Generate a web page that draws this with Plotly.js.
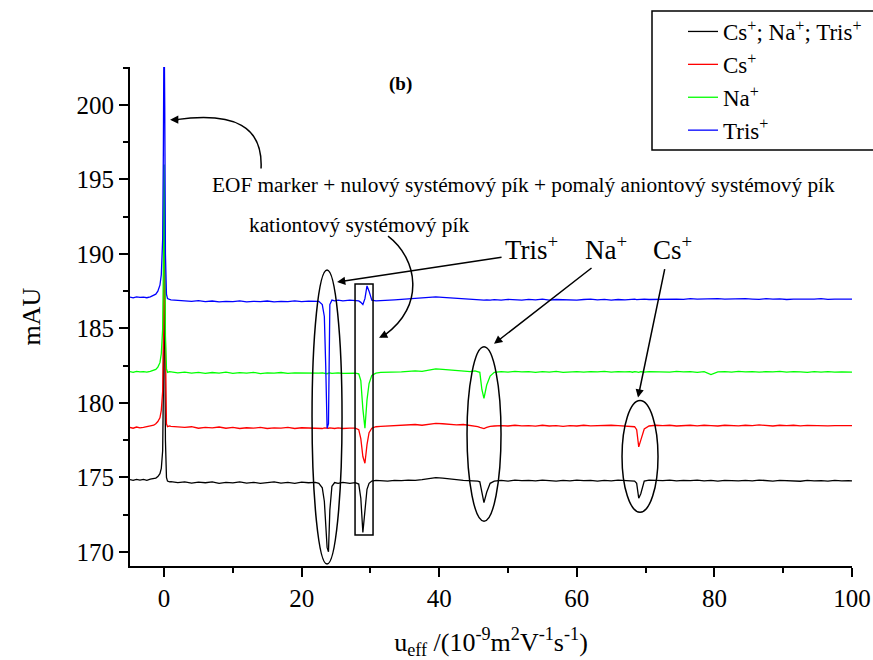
<!DOCTYPE html>
<html>
<head>
<meta charset="utf-8">
<script src="https://cdn.plot.ly/plotly-3.0.1.min.js"></script>
<style>html,body{margin:0;padding:0;background:#fff;} #chart{width:873px;height:660px;}</style>
</head>
<body>
<div id="chart"></div>
<script>
// mobility axis values (10^-9 m^2 V^-1 s^-1)
const mobility = [
  -4.95, -4.5, -4, -3.5, -3, -2.5, -2, -1.5,
  -1.2, -0.9, -0.6, -0.4, -0.2, -0.1, 0, 0.1, 0.2, 0.35, 0.5, 0.8,
  1, 2, 3, 4, 5, 6, 7, 8, 9, 10, 11, 12, 13, 14, 15, 16, 17, 18, 19, 20, 21, 22,
  22.5, 23, 23.3, 23.5, 23.7, 23.9, 24.1, 24.4, 24.8, 25.3, 26, 27, 27.8,
  28.3, 28.6, 28.9, 29.2, 29.5, 29.8, 30.2, 30.8, 31.5,
  32.5, 33.5, 34.5, 35.5, 36.5, 37.5, 38.5, 39.5, 40.5, 41.5, 42.5, 43.5, 44.5,
  45.2, 45.6, 45.9, 46.2, 46.5, 46.9, 47.4, 48,
  49, 50, 51, 52, 53, 54, 55, 56, 57, 58, 59, 60, 61, 62, 63, 64, 65, 66, 67,
  67.7, 68.1, 68.4, 68.7, 69, 69.3, 69.8, 70.5,
  71.5, 72.5, 73.5, 74.5, 75.5, 76.5, 77.5, 78.5, 79.5, 80.5, 81.5, 82.5, 83.5, 84.5, 85.5,
  86.5, 87.5, 88.5, 89.5, 90.5, 91.5, 92.5, 93.5, 94.5, 95.5, 96.5, 97.5, 98.5, 99.5, 100
];

// Cs+; Na+; Tris+ (black)
const mixSignal = [
  174.85, 174.8, 174.87, 174.82, 174.86, 174.8, 174.88, 174.9,
  174.95, 175.05, 175.25, 175.6, 176.8, 181, 191.0, 185, 177.5, 175.0, 174.75, 174.7,
  174.72, 174.65, 174.7, 174.62, 174.68, 174.64, 174.7, 174.6, 174.66, 174.63, 174.7, 174.62, 174.67, 174.6, 174.65, 174.7, 174.62, 174.66, 174.6, 174.68, 174.64, 174.66,
  174.6, 174.3, 173.4, 171.8, 170.3, 170.0, 172.8, 174.4, 174.65, 174.6, 174.66, 174.6, 174.65,
  174.55, 173.6, 171.3, 172.9, 174.2, 174.6, 174.75, 174.8, 174.78,
  174.75, 174.8, 174.78, 174.82, 174.8, 174.85, 174.9, 174.98, 174.95, 174.88, 174.85, 174.8, 174.78,
  174.8, 174.75, 174.7, 174.0, 173.3, 174.0, 174.6, 174.75,
  174.8, 174.75, 174.82, 174.78, 174.8, 174.76, 174.82, 174.78, 174.75, 174.8, 174.77, 174.82, 174.78, 174.8, 174.75, 174.8, 174.77, 174.82, 174.78,
  174.8, 174.78, 174.75, 174.6, 173.6, 173.9, 174.75, 174.82,
  174.8, 174.78, 174.82, 174.76, 174.8, 174.78, 174.82, 174.77, 174.8, 174.75, 174.8, 174.78, 174.76, 174.8, 174.77,
  174.82, 174.78, 174.75, 174.8, 174.77, 174.78, 174.74, 174.8, 174.76, 174.78, 174.75, 174.8, 174.76, 174.78, 174.77
];

// Cs+ (red)
const csSignal = [
  178.35, 178.3, 178.38, 178.32, 178.36, 178.4, 178.42, 178.5,
  178.6, 178.75, 179.0, 179.5, 180.8, 184, 191.2, 187, 180.5, 178.6, 178.4, 178.45,
  178.42, 178.38, 178.35, 178.4, 178.3, 178.36, 178.32, 178.38, 178.3, 178.35, 178.28, 178.33, 178.3, 178.36, 178.28, 178.32, 178.3, 178.35, 178.28, 178.33, 178.3, 178.32,
  178.3, 178.28, 178.32, 178.3, 178.27, 178.3, 178.32, 178.3, 178.28, 178.32, 178.28, 178.3, 178.3,
  178.2, 177.6, 176.4, 175.95, 177.2, 178.0, 178.3, 178.4, 178.42,
  178.45, 178.5, 178.48, 178.52, 178.55, 178.5, 178.58, 178.62, 178.6, 178.55, 178.52, 178.55, 178.5,
  178.45, 178.4, 178.35, 178.3, 178.28, 178.35, 178.42, 178.45,
  178.48, 178.45, 178.5, 178.46, 178.48, 178.44, 178.5, 178.45, 178.48, 178.43, 178.47, 178.45, 178.5, 178.46, 178.48, 178.45, 178.5, 178.47, 178.45,
  178.45, 178.42, 178.4, 178.2, 177.05, 177.5, 178.25, 178.45,
  178.5, 178.47, 178.5, 178.45, 178.48, 178.5, 178.46, 178.5, 178.47, 178.45, 178.5, 178.48, 178.46, 178.5, 178.47,
  178.52, 178.48, 178.45, 178.5, 178.47, 178.5, 178.46, 178.49, 178.47, 178.5, 178.46, 178.48, 178.5, 178.47, 178.48
];

// Na+ (green)
const naSignal = [
  182.1, 182.05, 182.12, 182.08, 182.1, 182.06, 182.12, 182.18,
  182.25, 182.4, 182.7, 183.3, 185, 189, 196.0, 192, 184.5, 182.3, 182.05, 182.1,
  182.08, 182.02, 182.06, 182.0, 182.05, 181.98, 182.04, 182.0, 182.06, 181.98, 182.03, 182.0, 182.05, 181.97, 182.02, 182.0, 182.04, 181.98, 182.02, 182.0, 182.03, 181.98,
  182.0, 182.02, 181.98, 182.0, 181.96, 182.0, 182.02, 181.98, 182.0, 182.02, 181.98, 182.0, 182.0,
  181.95, 181.5, 179.6, 178.3, 180.2, 181.3, 181.85, 182.0, 182.05,
  182.05, 182.1, 182.08, 182.12, 182.15, 182.12, 182.2, 182.28, 182.25, 182.2, 182.15, 182.12, 182.1,
  182.15, 182.12, 182.05, 180.9, 180.3, 181.2, 181.8, 182.05,
  182.1, 182.06, 182.12, 182.08, 182.1, 182.05, 182.1, 182.07, 182.12, 182.05, 182.08, 182.1, 182.06, 182.1, 182.08, 182.12, 182.06, 182.1, 182.08,
  182.1, 182.06, 182.1, 182.08, 182.05, 182.1, 182.07, 182.1,
  182.08, 182.1, 182.06, 182.12, 182.08, 182.1, 182.05, 182.1, 181.9, 182.08, 182.1, 182.06, 182.12, 182.08, 182.1,
  182.06, 182.1, 182.08, 182.12, 182.06, 182.1, 182.08, 182.05, 182.1, 182.07, 182.1, 182.06, 182.08, 182.1, 182.06
];

// Tris+ (blue)
const trisSignal = [
  187.1, 187.05, 187.12, 187.08, 187.1, 187.06, 187.12, 187.2,
  187.3, 187.5, 187.9, 188.6, 191, 197, 206, 200, 190, 187.3, 187.0, 186.95,
  186.92, 186.88, 186.85, 186.82, 186.86, 186.8, 186.84, 186.78, 186.82, 186.8, 186.85, 186.78, 186.82, 186.8, 186.84, 186.78, 186.82, 186.8, 186.85, 186.8, 186.83, 186.82,
  186.82, 186.6, 185.8, 182.5, 178.3, 178.6, 186.6, 186.9, 186.85, 186.9, 186.85, 186.9, 186.88,
  186.85, 186.75, 186.6, 187.0, 187.85, 187.5, 186.9, 186.85, 186.88,
  186.9, 186.92, 186.95, 186.98, 187.0, 187.05, 187.1, 187.12, 187.08, 187.05, 187.0, 186.98, 186.95,
  186.95, 186.92, 186.9, 186.88, 186.9, 186.92, 186.9, 186.93,
  186.9, 186.95, 186.92, 186.9, 186.95, 186.92, 186.96, 186.9, 186.94, 186.92, 186.95, 186.9, 186.94, 186.96, 186.92, 186.95, 186.9, 186.94, 186.92,
  186.95, 186.92, 186.96, 186.93, 186.95, 186.92, 186.96, 186.94,
  186.95, 186.98, 186.94, 186.97, 186.95, 187.0, 186.96, 186.98, 186.95, 187.0, 186.96, 186.98, 186.95, 187.0, 186.97,
  186.95, 187.0, 186.96, 186.98, 186.94, 186.97, 186.95, 186.98, 186.96, 187.0, 186.95, 186.97, 186.98, 186.95, 186.97
];

const seriesNames = ['Cs<sup>+</sup>; Na<sup>+</sup>; Tris<sup>+</sup>', 'Cs<sup>+</sup>', 'Na<sup>+</sup>', 'Tris<sup>+</sup>'];
const seriesValues = [mixSignal, csSignal, naSignal, trisSignal];
const seriesColors = ['#000000', '#ff0000', '#00ff00', '#0000ff'];

const xTickVals = [0, 20, 40, 60, 80, 100];
const yTickVals = [170, 175, 180, 185, 190, 195, 200];

const FONT = 'Liberation Serif';

const traces = seriesValues.map((ys, i) => ({
  x: mobility, y: ys, type: 'scatter', mode: 'lines', name: seriesNames[i],
  line: {color: seriesColors[i], width: 1.3}
}));

// helper: convert reference pixel position to data coordinates (for annotation layout only)
const px2x = p => (p - 164) / 6.88;
const py2y = p => 200 - (p - 103.3) / 14.95;

const shapes = [
  {type: 'circle', xref: 'x', yref: 'y', x0: px2x(312), x1: px2x(342), y0: py2y(564), y1: py2y(269), line: {color: '#000', width: 1.5}},
  {type: 'rect', xref: 'x', yref: 'y', x0: px2x(355), x1: px2x(373), y0: py2y(535), y1: py2y(283), line: {color: '#000', width: 1.5}},
  {type: 'circle', xref: 'x', yref: 'y', x0: px2x(467), x1: px2x(501), y0: py2y(521), y1: py2y(346), line: {color: '#000', width: 1.5}},
  {type: 'circle', xref: 'x', yref: 'y', x0: px2x(622), x1: px2x(658), y0: py2y(512), y1: py2y(400), line: {color: '#000', width: 1.5}},
  // curved arrow from EOF text to the EOF peak
  {type: 'path', xref: 'x', yref: 'y', line: {color: '#000', width: 1.5},
   path: `M ${px2x(261)},${py2y(167)} C ${px2x(263)},${py2y(125)} ${px2x(235)},${py2y(110)} ${px2x(176)},${py2y(118)}`},
  // curved arrow from the cationic system peak text
  {type: 'path', xref: 'x', yref: 'y', line: {color: '#000', width: 1.5},
   path: `M ${px2x(388)},${py2y(235)} C ${px2x(418)},${py2y(258)} ${px2x(425)},${py2y(305)} ${px2x(385)},${py2y(334)}`},
  // legend frame
  {type: 'rect', xref: 'paper', yref: 'paper', x0: (652 - 130) / 722, x1: (885 - 130) / 722, y0: (566 - 150) / 499, y1: (566 - 11) / 499, line: {color: '#000', width: 1.5}}
];

const arrow = (hx, hy, ax, ay) => ({
  x: px2x(hx), y: py2y(hy), xref: 'x', yref: 'y', text: '', showarrow: true,
  ax: ax, ay: ay, arrowhead: 2, arrowsize: 1.1, arrowwidth: 1.5, arrowcolor: '#000'
});

const annotations = [
  {x: px2x(400), y: py2y(82), xref: 'x', yref: 'y', text: '<b>(b)</b>', showarrow: false, font: {family: FONT, size: 19, color: '#000'}},
  {x: px2x(523), y: py2y(184), xref: 'x', yref: 'y', text: 'EOF marker + nulový systémový pík + pomalý aniontový systémový pík', showarrow: false, font: {family: FONT, size: 21.3, color: '#000'}},
  {x: px2x(359), y: py2y(224), xref: 'x', yref: 'y', text: 'kationtový systémový pík', showarrow: false, font: {family: FONT, size: 21.3, color: '#000'}},
  {x: px2x(531), y: py2y(247), xref: 'x', yref: 'y', text: 'Tris<sup>+</sup>', showarrow: false, font: {family: FONT, size: 27, color: '#000'}},
  {x: px2x(606), y: py2y(247), xref: 'x', yref: 'y', text: 'Na<sup>+</sup>', showarrow: false, font: {family: FONT, size: 27, color: '#000'}},
  {x: px2x(672), y: py2y(247), xref: 'x', yref: 'y', text: 'Cs<sup>+</sup>', showarrow: false, font: {family: FONT, size: 27, color: '#000'}},
  arrow(337, 281, 166, -25),
  arrow(494, 343, 99, -77),
  arrow(638, 397, 27, -130),
  arrow(170, 118, 10, 0),
  arrow(379, 337, 8, -4)
];

const axisCommon = {
  showline: true, linecolor: '#000', linewidth: 2, mirror: false,
  ticks: 'outside', ticklen: 9, tickwidth: 2, tickcolor: '#000',
  showgrid: false, zeroline: false,
  tickfont: {family: FONT, size: 25, color: '#000'}
};

const layout = {
  width: 873, height: 660,
  margin: {l: 130, r: 21, t: 67, b: 94, autoexpand: false},
  paper_bgcolor: '#fff', plot_bgcolor: '#fff',
  font: {family: FONT, color: '#000'},
  showlegend: true,
  legend: {x: (683 - 130) / 722, y: (566 - 10) / 499, xanchor: 'left', yanchor: 'top', bgcolor: 'rgba(0,0,0,0)', borderwidth: 0, font: {family: FONT, size: 23, color: '#000'}, tracegroupgap: 0},
  xaxis: Object.assign({}, axisCommon, {
    range: [-4.95, 100], tickmode: 'array', tickvals: xTickVals, ticktext: xTickVals.map(String),
    minor: {dtick: 10, tick0: 0, ticks: 'outside', ticklen: 5, tickwidth: 2, tickcolor: '#000'},
    title: {text: 'u<sub>eff</sub> /(10<sup>-9</sup>m<sup>2</sup>V<sup>-1</sup>s<sup>-1</sup>)', font: {family: FONT, size: 26, color: '#000'}, standoff: 22}
  }),
  yaxis: Object.assign({}, axisCommon, {
    range: [169.05, 202.55], tickmode: 'array', tickvals: yTickVals, ticktext: yTickVals.map(String),
    minor: {dtick: 2.5, tick0: 170, ticks: 'outside', ticklen: 5, tickwidth: 2, tickcolor: '#000'},
    title: {text: 'mAU', font: {family: FONT, size: 26, color: '#000'}, standoff: 28}
  }),
  shapes: shapes,
  annotations: annotations
};

Plotly.newPlot('chart', traces, layout, {displayModeBar: false, staticPlot: true});
</script>
</body>
</html>
